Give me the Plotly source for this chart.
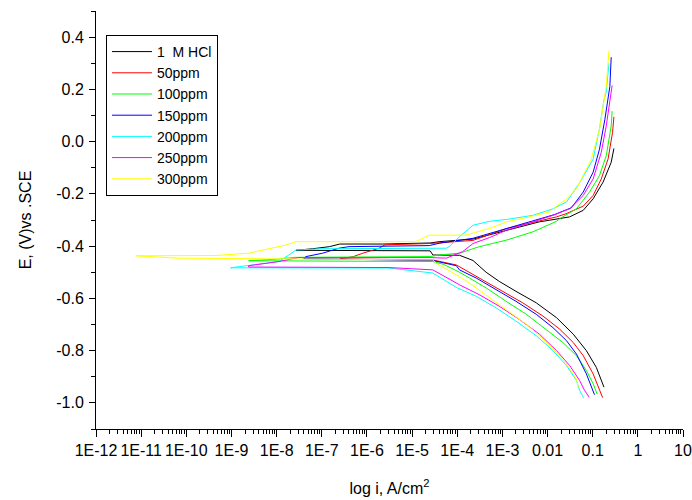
import plotly.graph_objects as go

# ---- data (log10 of current density, A/cm^2) and potential (V vs SCE) ----
series_names = ["1\u00a0 M HCl", "50ppm", "100ppm", "150ppm", "200ppm", "250ppm", "300ppm"]
series_colors = ["#000000", "#ff0000", "#00ff00", "#0000ff", "#00ffff", "#ff00ff", "#ffff00"]

hcl_logi = [-0.75, -0.92, -1.14, -1.43, -1.80, -2.25, -2.70, -3.07, -3.36, -3.65, -3.95, -4.54, -4.60,
            -5.60, -7.57, -7.20, -6.83, -6.60, -5.65, -4.60, -4.40, -3.65, -2.91, -2.18, -1.96, -1.51,
            -1.21, -0.99, -0.77, -0.59, -0.53]
hcl_E = [-0.940, -0.864, -0.800, -0.737, -0.674, -0.617, -0.573, -0.535, -0.500, -0.455, -0.435, -0.434,
         -0.418, -0.418, -0.416, -0.410, -0.402, -0.392, -0.392, -0.388, -0.383, -0.373, -0.339, -0.307,
         -0.301, -0.288, -0.263, -0.219, -0.155, -0.079, -0.026]

p50_logi = [-0.78, -0.85, -0.99, -1.21, -1.43, -1.73, -2.10, -2.55, -2.99, -3.43, -3.81, -4.02, -4.54,
            -6.60, -6.30, -6.09, -5.73, -5.60, -4.62, -3.65, -2.91, -2.18, -1.80, -1.59, -1.21, -0.99,
            -0.81, -0.66, -0.56, -0.53]
p50_E = [-0.980, -0.952, -0.889, -0.819, -0.769, -0.718, -0.668, -0.617, -0.573, -0.529, -0.491, -0.472,
         -0.453, -0.449, -0.440, -0.427, -0.408, -0.395, -0.390, -0.378, -0.333, -0.302, -0.288, -0.276,
         -0.247, -0.206, -0.143, -0.067, 0.035, 0.095]

p100_logi = [-0.90, -0.99, -1.14, -1.36, -1.66, -2.03, -2.47, -2.92, -3.36, -3.73, -3.96, -4.30, -4.54,
             -8.62, -8.00, -7.60, -4.60, -4.40, -3.95, -3.51, -2.91, -2.32, -1.80, -1.73, -1.36, -1.07,
             -0.85, -0.70, -0.59, -0.57]
p100_E = [-0.967, -0.927, -0.876, -0.819, -0.769, -0.718, -0.661, -0.611, -0.560, -0.522, -0.499, -0.470,
          -0.459, -0.456, -0.450, -0.443, -0.440, -0.434, -0.427, -0.402, -0.377, -0.345, -0.305, -0.295,
          -0.257, -0.193, -0.130, -0.054, 0.060, 0.117]

p150_logi = [-0.96, -1.03, -1.14, -1.36, -1.58, -1.88, -2.25, -2.70, -3.14, -3.58, -3.95, -4.02, -4.54,
             -7.40, -7.35, -6.98, -6.62, -6.40, -4.62, -4.40, -3.65, -2.91, -2.32, -1.84, -1.47, -1.21,
             -0.99, -0.85, -0.73, -0.66, -0.62, -0.59]
p150_E = [-0.969, -0.940, -0.889, -0.813, -0.762, -0.712, -0.661, -0.611, -0.567, -0.522, -0.491, -0.475,
          -0.455, -0.448, -0.440, -0.427, -0.408, -0.402, -0.398, -0.389, -0.370, -0.332, -0.301, -0.279,
          -0.253, -0.193, -0.117, -0.029, 0.085, 0.161, 0.211, 0.323]

p200_logi = [-1.20, -1.29, -1.36, -1.58, -1.88, -2.25, -2.70, -3.14, -3.58, -3.95, -4.02, -4.54, -5.51,
             -9.02, -8.50, -7.95, -7.73, -7.57, -7.00, -4.24, -4.18, -3.95, -3.65, -3.28, -2.91, -2.32,
             -1.88, -1.58, -1.30, -0.99, -0.85, -0.75, -0.70, -0.64]
p200_E = [-0.981, -0.952, -0.914, -0.857, -0.800, -0.743, -0.687, -0.636, -0.592, -0.563, -0.558, -0.503,
          -0.484, -0.483, -0.470, -0.459, -0.434, -0.415, -0.410, -0.408, -0.402, -0.364, -0.320, -0.305,
          -0.298, -0.282, -0.257, -0.231, -0.160, -0.067, 0.050, 0.160, 0.190, 0.300]

p250_logi = [-1.08, -1.18, -1.29, -1.51, -1.80, -2.18, -2.63, -3.07, -3.51, -3.95, -4.54, -5.51, -8.62,
             -8.62, -7.95, -7.51, -4.60, -4.24, -3.88, -3.65, -3.28, -2.91, -2.32, -1.88, -1.51, -1.21,
             -0.99, -0.81, -0.70, -0.61, -0.57]
p250_E = [-0.978, -0.952, -0.914, -0.857, -0.800, -0.737, -0.680, -0.630, -0.586, -0.548, -0.491, -0.482,
          -0.480, -0.475, -0.459, -0.444, -0.444, -0.446, -0.421, -0.390, -0.367, -0.339, -0.307, -0.282,
          -0.257, -0.206, -0.143, -0.041, 0.060, 0.161, 0.215]

p300_logi = [-1.32, -1.36, -1.58, -1.80, -2.10, -2.47, -2.92, -3.36, -3.73, -4.02, -4.47, -4.54, -8.60,
             -10.20, -11.12, -9.35, -8.62, -8.09, -7.80, -7.57, -4.92, -4.62, -3.81, -3.28, -2.91, -2.40,
             -1.96, -1.73, -1.58, -1.36, -1.03, -0.85, -0.70, -0.64]
p300_E = [-0.940, -0.908, -0.851, -0.807, -0.756, -0.699, -0.643, -0.586, -0.541, -0.510, -0.465, -0.453,
          -0.447, -0.446, -0.437, -0.436, -0.427, -0.408, -0.396, -0.383, -0.383, -0.358, -0.358, -0.332,
          -0.307, -0.288, -0.269, -0.238, -0.220, -0.181, -0.067, 0.047, 0.211, 0.348]

x_tick_vals = [1e-12, 1e-11, 1e-10, 1e-9, 1e-8, 1e-7, 1e-6, 1e-5, 1e-4, 1e-3, 1e-2, 1e-1, 1, 10]
x_tick_text = ["1E-12", "1E-11", "1E-10", "1E-9", "1E-8", "1E-7", "1E-6", "1E-5", "1E-4", "1E-3",
               "0.01", "0.1", "1", "10"]
x_minor_mult = [2, 3, 4, 5, 6, 7, 8, 9]
y_tick_vals = [-1.0, -0.8, -0.6, -0.4, -0.2, 0.0, 0.2, 0.4]
y_tick_text = ["-1.0", "-0.8", "-0.6", "-0.4", "-0.2", "0.0", "0.2", "0.4"]

all_logi = [hcl_logi, p50_logi, p100_logi, p150_logi, p200_logi, p250_logi, p300_logi]
all_E = [hcl_E, p50_E, p100_E, p150_E, p200_E, p250_E, p300_E]

FONT = "Liberation Sans, Arial, sans-serif"

fig = go.Figure()
for name, color, lg, ev in zip(series_names, series_colors, all_logi, all_E):
    fig.add_trace(go.Scatter(
        x=[10 ** v for v in lg], y=ev, mode="lines", name=name,
        line=dict(color=color, width=1),
    ))

x_minor_vals = [m * t for t in x_tick_vals[:-1] for m in x_minor_mult]

fig.update_layout(
    width=692, height=500,
    margin=dict(l=96, r=9, t=11, b=71),
    paper_bgcolor="white", plot_bgcolor="white",
    font=dict(family=FONT, size=16, color="black"),
    showlegend=True,
    legend=dict(
        x=0.017, y=0.9426, xanchor="left", yanchor="top",
        bgcolor="white", bordercolor="black", borderwidth=1,
        font=dict(family=FONT, size=14, color="black"),
        itemwidth=40,
    ),
    xaxis=dict(
        type="log", range=[-12, 1], automargin=False,
        tickmode="array", tickvals=x_tick_vals, ticktext=x_tick_text, tickangle=0,
        ticks="outside", ticklen=7, tickwidth=1, tickcolor="black",
        showline=True, linecolor="black", linewidth=1, mirror=False,
        showgrid=False, zeroline=False,
        ticklabelstandoff=0,
        minor=dict(tickmode="array", tickvals=x_minor_vals, ticks="outside", ticklen=4,
                   tickcolor="black", showgrid=False),
        title=dict(text="log i, A/cm<sup>2</sup>", font=dict(family=FONT, size=16), standoff=24),
    ),
    yaxis=dict(
        range=[-1.1, 0.5], automargin=False,
        tickmode="array", tickvals=y_tick_vals, ticktext=y_tick_text,
        ticks="outside", ticklen=6, tickwidth=1, tickcolor="black",
        showline=True, linecolor="black", linewidth=1, mirror=False,
        showgrid=False, zeroline=False,
        ticklabelstandoff=2,
        minor=dict(dtick=0.1, ticks="outside", ticklen=4, tickcolor="black", showgrid=False),
        title=dict(text="E, (V)vs .SCE", font=dict(family=FONT, size=16), standoff=20),
    ),
)

# remove the default page margin so the 692x500 figure fills the window exactly
fig.write_html("out.html",
               config={"displayModeBar": False},
               post_script="document.body.style.margin='0px';document.body.style.overflow='hidden';")
